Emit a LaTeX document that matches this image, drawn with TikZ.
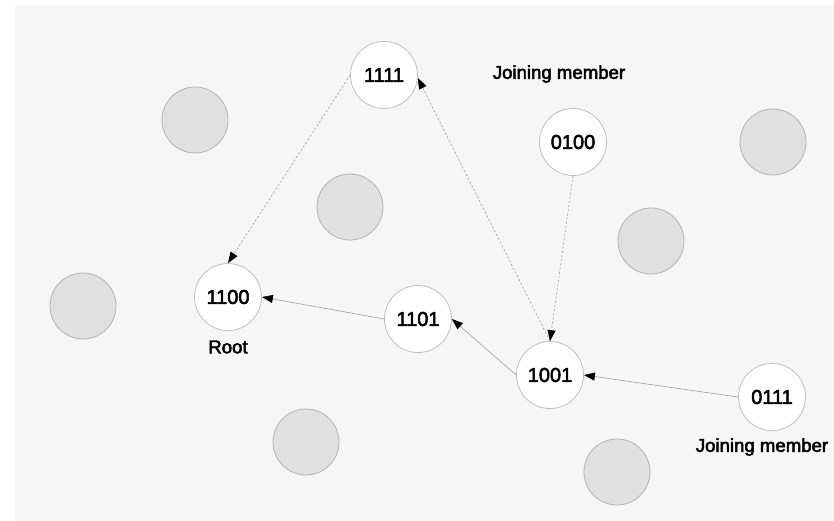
\documentclass[tikz,border=0pt]{standalone}
\usepackage{fontspec}
\setmainfont{Liberation Sans}
\newfontfamily\heavyfont{Liberation Sans}[FakeBold=2.6]
\usetikzlibrary{arrows.meta}
\definecolor{bgc}{HTML}{F6F6F6}
\definecolor{grayfill}{HTML}{E0E0E0}
\definecolor{grayline}{HTML}{B4B4B4}
\definecolor{nodeline}{HTML}{C0C0C0}
\definecolor{conn}{HTML}{A0A0A0}
\tikzset{
  member/.style={circle, draw=nodeline, line width=0.8pt, fill=white, minimum size=67pt, inner sep=0pt, font=\heavyfont\fontsize{20}{22}\selectfont},
  other/.style={circle, draw=grayline, line width=0.8pt, fill=grayfill, minimum size=66pt, inner sep=0pt},
  lbl/.style={font=\heavyfont\fontsize{18.6}{22}\selectfont, inner sep=0pt},
  link/.style={draw=conn, line width=0.6pt, -{Triangle[length=11pt,width=8pt,fill=black,color=black]}},
  dlink/.style={link, dash pattern=on 2.2pt off 2pt},
}
\begin{document}
\begin{tikzpicture}[x=1pt,y=-1pt]
\useasboundingbox (0,0) rectangle (834,521);
\fill[white] (0,0) rectangle (834,521);
\fill[bgc] (15,5) rectangle (834,521);
% grey circles
\node[other] (g1) at (195,120) {};
\node[other] (g2) at (350,207) {};
\node[other] (g3) at (83,306) {};
\node[other] (g4) at (306,442) {};
\node[other] (g5) at (617,472) {};
\node[other] (g6) at (773,142) {};
\node[other] (g7) at (651,241) {};
% members
\node[member] (n1111) at (384,75) {1111};
\node[member] (n0100) at (573,142) {0100};
\node[member] (n1100) at (228,297) {1100};
\node[member] (n1101) at (418,319) {1101};
\node[member] (n1001) at (550,375) {1001};
\node[member] (n0111) at (772,397) {0111};
% labels
\node[lbl] (jm1) at (559,74) {Joining member};
\node[lbl] (root) at (228,347) {Root};
\node[lbl] (jm2) at (762,447) {Joining member};
% connectors
\draw[dlink] (n1111.west) -- (n1100.north);
\draw[dlink] (n1001.north) -- (n1111.-5);
\draw[dlink] (n0100.south) -- (n1001.north);
\draw[link] (n1101.west) -- (n1100.east);
\draw[link] (n1001.west) -- (n1101.east);
\draw[link] (n0111.west) -- (n1001.east);
\end{tikzpicture}
\end{document}
